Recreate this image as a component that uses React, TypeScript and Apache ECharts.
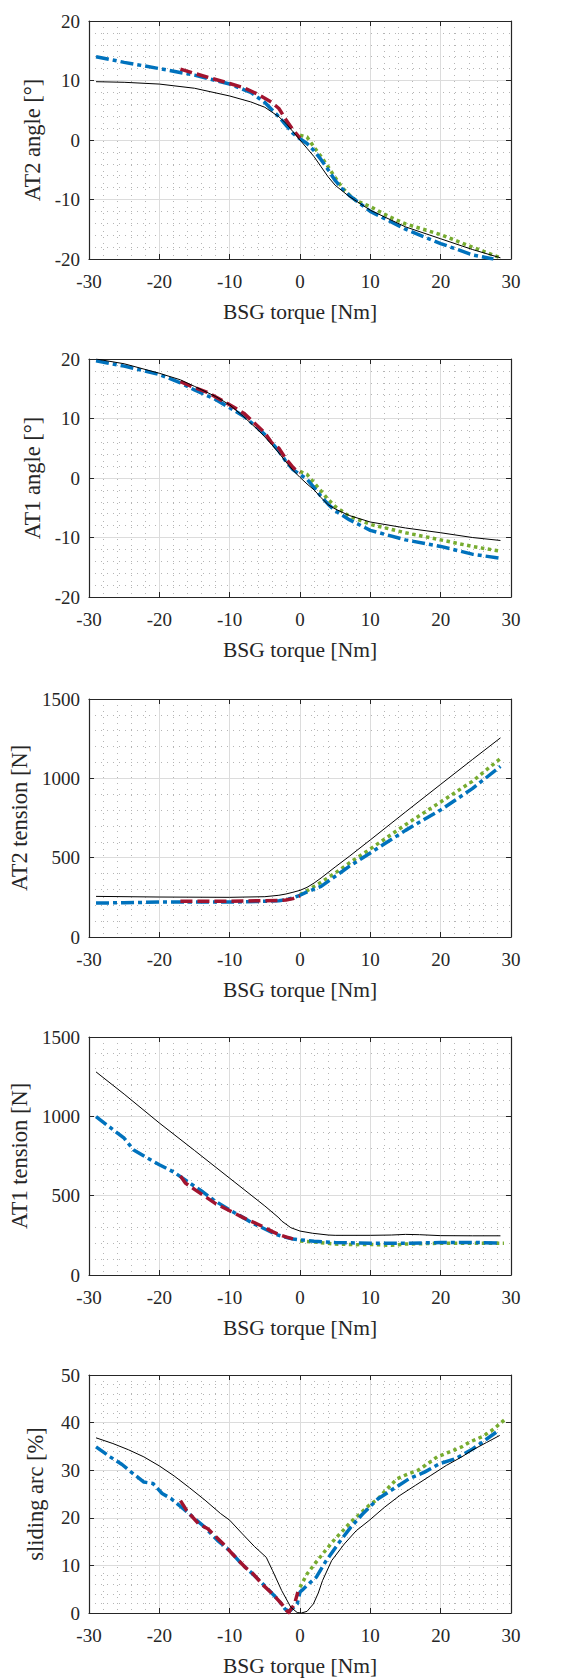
import React, { useEffect, useRef } from "react";
import * as echarts from "echarts";

// ---------- data (x = BSG torque [Nm]) ----------
const xTicks = [-30, -20, -10, 0, 10, 20, 30];

// Panel 1: AT2 angle [°]
const at2AngleBlack = [[-29,9.8],[-25,9.7],[-20,9.4],[-15,8.7],[-10,7.4],[-7,6.4],[-5,5.5],[-3,3.9],[-2,2.8],[-1,1.4],[0,0],[1,-1.4],[2,-2.8],[3,-4.5],[4,-6.2],[5,-7.6],[7,-9.5],[10,-11.8],[15,-14.6],[20,-16.6],[24.5,-18.4],[28.5,-19.8]];
const at2AngleRed = [[-17,11.9],[-15,11.2],[-13,10.5],[-10,9.5],[-8,8.8],[-6,7.7],[-4,6.3],[-3,5.3],[-2,3.4],[-1,1.7],[0,0.3]];
const at2AngleGreen = [[0,0.8],[1,0.5],[2,-1.2],[3,-2.8],[4,-4.5],[5,-6.3],[6,-8.0],[7,-9.2],[8,-10.2],[10,-11.2],[12.7,-12.9],[15,-14.1],[20,-15.9],[24.5,-18.0],[28.5,-19.8]];
const at2AngleBlue = [[-29,14.0],[-25,13.05],[-20,12.0],[-15,10.9],[-10,9.4],[-7,8.0],[-5,6.3],[-3,3.9],[-2,2.5],[-1,1.1],[0,0.2],[1,-0.6],[2,-1.8],[3,-3.3],[4,-5.0],[5,-6.8],[6,-8.2],[7,-9.3],[10,-12.0],[15,-15.0],[20,-17.4],[24.5,-19.3],[27.5,-20.0]];

// Panel 2: AT1 angle [°]
const at1AngleBlack = [[-29,20.0],[-25,19.2],[-20,17.6],[-17,16.5],[-15,15.4],[-12,13.7],[-10,12.3],[-8,10.3],[-6,8.1],[-5,6.9],[-4,5.6],[-3,4.2],[-2,2.7],[-1,1.3],[0,0.1],[1,-1.0],[2,-2.0],[3,-3.3],[4,-4.5],[5,-5.2],[7,-6.3],[10,-7.4],[15,-8.4],[20,-9.2],[24.5,-10.0],[28.5,-10.5]];
const at1AngleRed = [[-17,16.2],[-15,15.2],[-13,14.3],[-10,12.3],[-8,10.9],[-6,8.7],[-5,7.6],[-4,5.9],[-3,5.0],[-2,3.2],[-1,1.8],[-0.5,1.2],[0,0.9]];
const at1AngleGreen = [[0,1.1],[1,0.6],[2,-0.8],[3,-2.2],[4,-3.6],[5,-4.8],[7,-6.4],[10,-7.8],[15,-9.2],[20,-10.4],[24.5,-11.5],[28.5,-12.3]];
const at1AngleBlue = [[-29,19.7],[-25,18.8],[-20,17.4],[-17,16.0],[-15,14.8],[-12,13.2],[-10,11.8],[-8,10.4],[-6,8.4],[-5,7.3],[-4,5.9],[-3,4.5],[-2,2.8],[-1,1.4],[0,0.6],[1,-0.2],[2,-1.6],[3,-3.1],[4,-4.4],[5,-5.5],[7,-7.0],[10,-8.8],[15,-10.4],[20,-11.5],[24.5,-12.8],[28.5,-13.5]];

// Panel 3: AT2 tension [N]
const at2TensionBlack = [[-29,256],[-20,252],[-10,250],[-5,254],[-3,263],[-2,271],[-1,282],[0,294],[1,313],[2,340],[3,372],[5,441],[7,508],[10,612],[15,788],[20,962],[24.5,1118],[28.5,1255]];
const at2TensionRed = [[-17,225],[-15,225],[-10,225],[-5,229],[-3,231],[-2,233],[-1,242],[0,258]];
const at2TensionGreen = [[0,267],[1,292],[2,319],[3,345],[5,403],[7,466],[10,555],[15,708],[20,851],[24.5,981],[28.5,1125]];
const at2TensionBlue = [[-29,214],[-25,216],[-20,220],[-15,220],[-10,220],[-5,225],[-3,229],[-2,235],[-1,246],[0,263],[1,284],[2,302],[3,319],[5,382],[7,445],[10,530],[15,672],[20,801],[24.5,935],[28.5,1075]];

// Panel 4: AT1 tension [N]
const at1TensionBlack = [[-29,1280],[-25,1140],[-20,958],[-15,785],[-10,610],[-5,435],[-3,360],[-2.6,340],[-1.3,298],[0,277],[1.8,263],[4,252],[5,250],[10,250],[13,252],[15,256],[17,254],[20,248],[24.5,247],[28.5,247]];
const at1TensionRed = [[-17,624],[-16.3,580],[-15,540],[-14,510],[-12,450],[-10,405],[-8,360],[-6,320],[-5,300],[-4,275],[-3,255],[-2,240],[-1,228]];
const at1TensionGreen = [[0,214],[2,208],[5,195],[8,191],[10,193],[13,187],[15,195],[20,200],[24.5,200],[29,200]];
const at1TensionBlue = [[-29,998],[-27,930],[-25,862],[-23.7,790],[-22,745],[-21,720],[-20,695],[-18,650],[-17,620],[-16,589],[-14,530],[-12.3,473],[-10,410],[-8,360],[-6.7,326],[-5,290],[-3.4,255],[-2,237],[-1,227],[0,222],[2,212],[5,205],[10,200],[15,200],[20,205],[24.5,205],[28.5,202]];

// Panel 5: sliding arc [%]
const slidingBlack = [[-29,36.8],[-26.6,35.6],[-24.4,34.3],[-22.2,32.8],[-20,30.9],[-17.9,28.8],[-15.7,26.3],[-13.5,23.7],[-11.3,20.9],[-10,19.5],[-8.3,16.8],[-6.5,14.0],[-4.8,11.7],[-3.9,8.9],[-2.6,4.7],[-1.3,1.2],[-0.4,0.1],[0.2,0],[1.0,0.35],[1.9,1.9],[2.6,4.2],[3.2,6.8],[4.5,11.0],[6.3,14.5],[8.0,17.3],[9.8,19.4],[12.0,22.2],[14.2,24.7],[16.4,26.8],[18.6,28.9],[20.8,31.0],[23.0,32.8],[24.6,34.3],[26.5,35.8],[28.4,37.3]];
const slidingRed = [[-17,23.6],[-16.1,21.5],[-14.4,18.7],[-13.1,17.7],[-10.9,14.5],[-9.6,12.4],[-7.8,9.6],[-6.9,8.6],[-5.2,5.8],[-3.9,4.0],[-2.6,1.9],[-1.9,0.5],[-1.6,0.1],[-1.3,0.8],[-0.8,1.8],[-0.3,4.4]];
const slidingGreen = [[0,5.4],[1.0,8.2],[2.3,10.7],[3.6,13.1],[5.0,15.6],[6.1,17.3],[7.2,19.1],[8.5,20.8],[9.8,22.6],[11.1,24.0],[12.2,25.8],[13.8,28.2],[15.5,29.3],[16.8,30.0],[18.2,31.4],[19.5,32.8],[21.2,33.8],[23.0,34.9],[24.1,35.9],[26.0,37.1],[27.5,38.6],[29.1,40.6]];
const slidingBlue = [[-29,34.9],[-27,32.8],[-25.3,31.2],[-24,29.6],[-22.2,27.5],[-20.9,27.2],[-19.6,25.1],[-18.3,24.0],[-16.6,21.9],[-15.2,20.1],[-13.5,18.0],[-11.7,15.2],[-10,13.1],[-8.3,10.3],[-6.5,7.9],[-4.8,5.4],[-3.0,2.6],[-2.1,0.8],[-1.5,0.35],[-0.4,1.9],[0,4.4],[0.3,4.8],[1.0,5.8],[2.3,7.5],[3.6,10.7],[5.4,14.5],[7.2,18.0],[8.9,20.8],[11.1,24.0],[13.3,26.1],[15.5,28.2],[17.7,29.6],[19.9,31.4],[22.1,32.4],[24.6,34.5],[26.5,36.5],[28.2,38.3]];

const panelNames = ["AT2 angle [°]", "AT1 angle [°]", "AT2 tension [N]", "AT1 tension [N]", "sliding arc [%]"];
const panelYRange = [[-20, 20, 10], [-20, 20, 10], [0, 1500, 500], [0, 1500, 500], [0, 50, 10]];
const xAxisName = "BSG torque [Nm]";

// ---------- styling ----------
const FONT = "Liberation Serif";
const TXT = "#262626";
const AX = "#262626";
const panelTops = [21, 359, 699, 1037, 1375];
const GRID_LEFT = 89;
const GRID_W = 422;
const GRID_H = 238;

function buildOption() {
  const panels = [
    [at2AngleBlack, at2AngleRed, at2AngleGreen, at2AngleBlue],
    [at1AngleBlack, at1AngleRed, at1AngleGreen, at1AngleBlue],
    [at2TensionBlack, at2TensionRed, at2TensionGreen, at2TensionBlue],
    [at1TensionBlack, at1TensionRed, at1TensionGreen, at1TensionBlue],
    [slidingBlack, slidingRed, slidingGreen, slidingBlue],
  ];
  const grid: any[] = [];
  const xAxis: any[] = [];
  const yAxis: any[] = [];
  const series: any[] = [];
  const tick = { show: true, inside: true, length: 5, lineStyle: { color: AX, width: 1 } };
  const line = { show: true, onZero: false, lineStyle: { color: AX, width: 1.2 } };
  const major = { show: true, lineStyle: { color: "#dcdcdc", width: 1 } };
  const minor = { show: true, lineStyle: { color: "#b5b5b5", width: 1, type: [1, 5] } };
  const fmt = (v: number) => String(v);
  const labelStyle = { color: TXT, fontFamily: FONT, fontSize: 19, fontWeight: "normal" };

  panels.forEach((p, i) => {
    const [yMin, yMax, yInt] = panelYRange[i];
    grid.push({ left: GRID_LEFT, top: panelTops[i], width: GRID_W, height: GRID_H, containLabel: false });
    xAxis.push({
      gridIndex: i, type: "value", min: xTicks[0], max: xTicks[xTicks.length - 1], interval: 10, position: "bottom",
      axisLine: line, axisTick: tick,
      axisLabel: { ...labelStyle, margin: 13, formatter: fmt },
      splitLine: major, minorTick: { show: false, splitNumber: 5 }, minorSplitLine: minor,
      name: xAxisName, nameLocation: "middle", nameGap: 42,
      nameTextStyle: { color: TXT, fontFamily: FONT, fontSize: 21.5 },
    });
    xAxis.push({
      gridIndex: i, type: "value", min: xTicks[0], max: xTicks[xTicks.length - 1], interval: 10, position: "top",
      axisLine: line, axisTick: tick, axisLabel: { show: false }, splitLine: { show: false },
    });
    yAxis.push({
      gridIndex: i, type: "value", min: yMin, max: yMax, interval: yInt, position: "left",
      axisLine: line, axisTick: tick,
      axisLabel: { ...labelStyle, margin: 9, formatter: fmt },
      splitLine: major, minorTick: { show: false, splitNumber: 5 }, minorSplitLine: minor,
      name: panelNames[i], nameLocation: "middle", nameGap: 42,
      nameTextStyle: { color: TXT, fontFamily: FONT, fontSize: 22.5 },
    });
    yAxis.push({
      gridIndex: i, type: "value", min: yMin, max: yMax, interval: yInt, position: "right",
      axisLine: line, axisTick: tick, axisLabel: { show: false }, splitLine: { show: false },
    });
    const styles = [
      { color: "#000000", width: 1, type: "solid", z: 6 },
      { color: "#A2142F", width: 3.5, type: [12, 5], z: 5 },
      { color: "#77AC30", width: 3.5, type: [3.5, 3.5], z: 3 },
      { color: "#0072BD", width: 3.5, type: [13, 4, 4, 4], z: 4 },
    ];
    p.forEach((d, k) => {
      const s = styles[k];
      series.push({
        type: "line", xAxisIndex: i * 2, yAxisIndex: i * 2, data: d,
        showSymbol: false, symbol: "none", smooth: false, z: s.z,
        lineStyle: { color: s.color, width: s.width, type: s.type, cap: "butt", join: "round" },
      });
    });
  });
  return {
    animation: false,
    backgroundColor: "#ffffff",
    textStyle: { fontFamily: FONT, color: TXT },
    grid, xAxis, yAxis, series,
  };
}

export default function App() {
  const ref = useRef<HTMLDivElement>(null);
  useEffect(() => {
    if (!ref.current) return;
    const chart = echarts.init(ref.current, undefined, { renderer: "svg" });
    chart.setOption(buildOption() as any);
    return () => chart.dispose();
  }, []);
  return (
    <div
      ref={ref}
      style={{ position: "absolute", left: 0, top: 0, width: 566, height: 1678, background: "#fff" }}
    />
  );
}
